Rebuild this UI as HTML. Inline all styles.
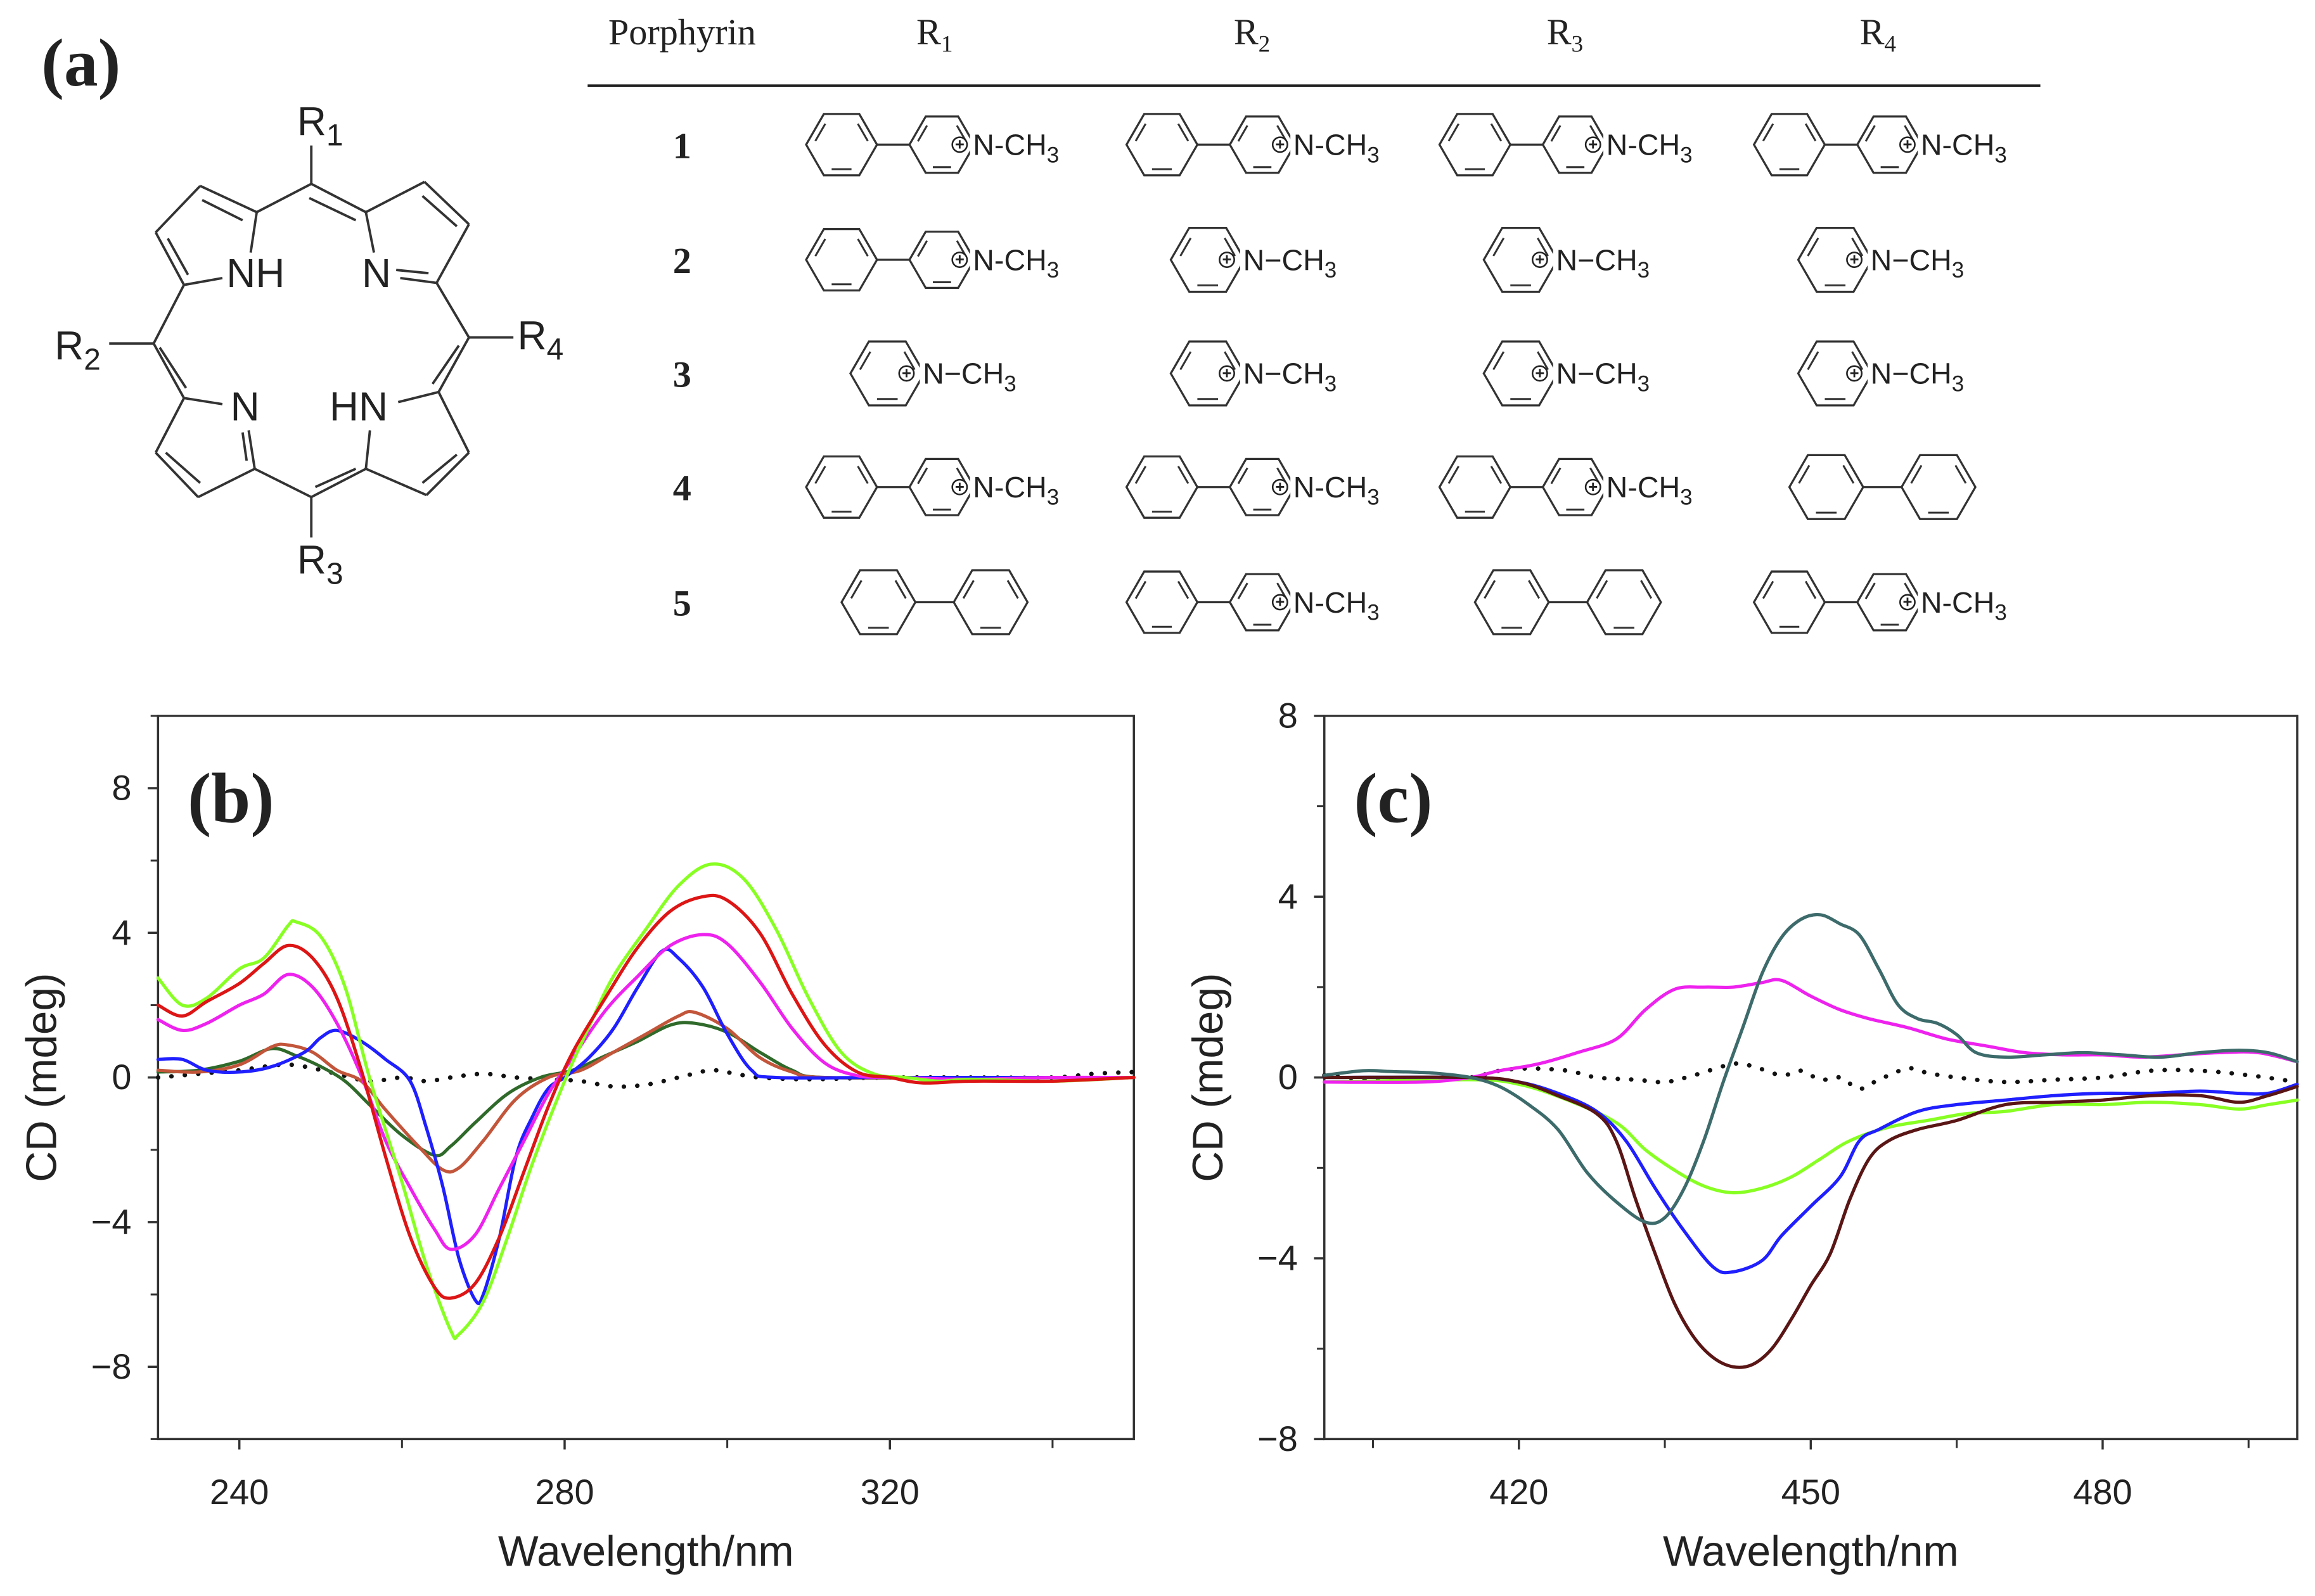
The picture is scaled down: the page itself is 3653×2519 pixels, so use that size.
<!DOCTYPE html>
<html><head><meta charset="utf-8">
<style>
html,body{margin:0;padding:0;background:#fff;}
svg{display:block;}
text{font-family:"Liberation Sans",sans-serif;fill:#222;}
.serif{font-family:"Liberation Serif",serif;}
</style></head>
<body>
<svg id="fig" width="3653" height="2519" viewBox="0 0 1568 1081.3" xmlns="http://www.w3.org/2000/svg">
  <rect width="1568" height="1081.3" fill="#fff"/>
  <g id="panelA"></g>
  <g id="panelB"></g>
  <g id="panelC"></g>
</svg>
<script>
// ---------- chart data (panel b) ----------
const bLimeX=[230,233,236,240,243,246,247,250,253,256,260,263,266,267,270,273,276,280,283,286,290,294,298,302,306,310,314,318,322,326,330,340,350];
const bLimeY=[2.75,2.0,2.2,3.0,3.3,4.2,4.3,3.9,2.5,0,-2.9,-5.2,-7.0,-7.1,-6.2,-4.4,-2.4,-0.1,1.4,2.8,4.1,5.3,5.9,5.5,4.1,2.2,0.7,0.1,0,-0.1,-0.05,-0.1,0];
const bRedX=[230,233,236,240,243,246,249,252,255,258,261,264,266,269,272,275,278,281,285,289,293,297,300,304,308,312,316,320,324,330,340,350];
const bRedY=[2.0,1.7,2.1,2.6,3.15,3.65,3.3,2.2,0.2,-2.2,-4.4,-5.8,-6.1,-5.7,-4.4,-2.6,-0.8,0.7,2.2,3.6,4.6,5.0,4.9,4.0,2.3,0.9,0.15,0,-0.15,-0.1,-0.1,0];
const bMagX=[230,233,236,240,243,246,249,252,255,258,261,264,266,269,272,275,278,281,285,289,293,297,300,304,308,312,316,320,330,340,350];
const bMagY=[1.6,1.3,1.5,2.0,2.3,2.85,2.5,1.5,0.05,-1.75,-3.05,-4.2,-4.75,-4.35,-3.05,-1.75,-0.45,0.55,1.85,2.8,3.65,3.95,3.7,2.65,1.35,0.4,0.05,0,-0.05,0,0];
const bBlueX=[230,233,236,240,244,248,250,252,255,258,261,263,265,267,269,270,272,274,276,278,280,283,286,289,292,294,297,300,303,306,320,350];
const bBlueY=[0.5,0.5,0.2,0.15,0.3,0.7,1.1,1.3,1.0,0.5,-0.1,-1.4,-3.0,-5.0,-6.15,-6.0,-4.4,-2.2,-1.1,-0.3,0,0.55,1.35,2.5,3.5,3.3,2.5,1.2,0.2,0,0,0];
const bBrownX=[230,235,240,244,246,249,252,255,258,262,265,267,270,274,278,282,286,290,294,296,300,304,308,312,330,350];
const bBrownY=[0.2,0.15,0.35,0.85,0.9,0.7,0.2,-0.1,-0.9,-1.9,-2.55,-2.5,-1.75,-0.6,0,0.2,0.7,1.2,1.7,1.8,1.35,0.55,0.15,0,0,0];
const bDkGreenX=[230,235,240,244,247,250,253,256,260,264,266,269,273,277,281,285,289,293,296,300,304,308,312,330,350];
const bDkGreenY=[0.15,0.2,0.45,0.8,0.6,0.3,-0.1,-0.75,-1.6,-2.15,-1.9,-1.25,-0.45,0,0.2,0.6,1.0,1.45,1.5,1.25,0.7,0.2,0,0,0];
const bDotX=[230,235,240,245,248,252,256,260,263,266,270,274,278,282,286,290,294,298,301,304,310,320,330,340,345,350];
const bDotY=[0.0,0.1,0.2,0.35,0.3,0.1,-0.1,0.0,-0.1,0.0,0.1,0.0,-0.05,-0.1,-0.25,-0.2,0.0,0.2,0.1,0.0,-0.05,0,0,0,0.1,0.15];
const bXTicks=[240,280,320];
const bXMinor=[260,300,340];
const bYTicks=[-8,-4,0,4,8];
const bYTickLabels=["\u22128","\u22124","0","4","8"];
const bYMinor=[-10,-6,-2,2,6,10];

// ---------- chart data (panel c) ----------
const cTealX=[400,404,407,411,415,418,421,424,427,430,433,435,437,439,441,443,445,447,449,451,453,455,457,459,461,463,465,467,470,474,478,482,486,490,494,497,500];
const cTealY=[0.05,0.15,0.13,0.1,0,-0.2,-0.6,-1.15,-2.1,-2.75,-3.2,-3.1,-2.45,-1.4,-0.1,1.1,2.3,3.1,3.5,3.6,3.4,3.15,2.4,1.6,1.3,1.2,0.95,0.55,0.45,0.5,0.55,0.5,0.45,0.55,0.6,0.55,0.35];
const cMagX=[400,410,415,418,422,426,430,433,436,439,442,445,447,450,453,456,460,464,468,472,476,480,484,488,492,496,500];
const cMagY=[-0.1,-0.1,0,0.15,0.3,0.55,0.85,1.5,1.95,2.0,2.0,2.1,2.15,1.8,1.5,1.3,1.1,0.85,0.7,0.55,0.5,0.5,0.45,0.5,0.55,0.55,0.35];
const cBlueX=[400,415,420,424,428,431,434,437,440,442,445,447,450,453,455,457,461,465,470,475,480,485,490,494,497,500];
const cBlueY=[0,0,-0.1,-0.35,-0.75,-1.4,-2.45,-3.4,-4.2,-4.3,-4.05,-3.5,-2.85,-2.2,-1.4,-1.15,-0.75,-0.6,-0.5,-0.4,-0.35,-0.35,-0.3,-0.35,-0.35,-0.15];
const cBrownX=[400,415,420,424,428,430,432,434,436,438,440,442,444,446,448,450,452,454,456,458,461,465,470,475,480,485,490,494,497,500];
const cBrownY=[0,0,-0.1,-0.4,-0.8,-1.4,-2.7,-3.9,-5.0,-5.75,-6.2,-6.4,-6.35,-6.0,-5.35,-4.6,-3.9,-2.7,-1.8,-1.4,-1.15,-0.95,-0.6,-0.55,-0.5,-0.4,-0.4,-0.55,-0.4,-0.2];
const cLimeX=[400,415,420,425,430,433,436,439,442,445,448,451,454,458,462,466,470,475,480,485,490,494,497,500];
const cLimeY=[-0.1,-0.05,-0.15,-0.5,-1.0,-1.6,-2.05,-2.4,-2.55,-2.45,-2.2,-1.8,-1.4,-1.1,-0.95,-0.8,-0.75,-0.6,-0.6,-0.55,-0.6,-0.7,-0.6,-0.5];
const cDotX=[400,405,410,415,418,421,425,428,432,435,438,442,444,447,449,451,453,455,457,460,462,465,470,475,480,485,490,495,500];
const cDotY=[0.05,-0.05,-0.05,0,0.15,0.2,0.15,0,-0.05,-0.1,0.05,0.3,0.25,0.05,0.15,-0.05,0,-0.25,-0.05,0.2,0.1,0,-0.1,-0.05,0,0.15,0.15,0.05,-0.1];
const cXTicks=[420,450,480];
const cXMinor=[405,435,465,495];
const cYTicks=[-8,-4,0,4,8];
const cYTickLabels=["\u22128","\u22124","0","4","8"];
const cYMinor=[-6,-2,2,6];

const NS="http://www.w3.org/2000/svg";
function mk(parent,tag,attrs,txt){const e=document.createElementNS(NS,tag);for(const k in attrs)e.setAttribute(k,attrs[k]);if(txt!==undefined)e.textContent=txt;parent.appendChild(e);return e;}

// ---------- panel a: porphyrin ----------
const A=document.getElementById('panelA');
const por=mk(A,'g',{transform:'scale(0.2738)'});


const bonds=[[770,455,770,360],[770,455,635,525],[770,455,905,525],[635,525,495,460],[495,460,385,575],[385,575,455,705],[455,705,550,688],[635,525,620,625],
[905,525,1050,450],[1050,450,1160,555],[1160,555,1080,700],[1080,700,990,688],[905,525,925,625],
[455,705,380,850],[380,850,270,850],[380,850,455,985],[455,985,550,1000],[455,985,385,1120],[385,1120,490,1230],[490,1230,630,1160],[630,1160,615,1065],
[630,1160,770,1230],[770,1230,770,1330],[770,1230,905,1160],[905,1160,915,1065],[905,1160,1055,1225],[1055,1225,1160,1120],[1160,1120,1085,970],[1085,970,985,995],
[1085,970,1160,835],[1160,835,1270,835],[1160,835,1080,700]];
bonds.forEach(b=>mk(por,'line',{x1:b[0],y1:b[1],x2:b[2],y2:b[3],stroke:'#333','stroke-width':6}));
const dbl=[[765,490,880,545],[500,495,600,545],[415,590,465,680],[1045,485,1130,560],[980,668,1060,676],[1045,1195,1130,1125],[600,1070,610,1140],[780,1205,880,1160],[410,1120,495,1195],[395,860,460,960],[1135,855,1070,950]];
dbl.forEach(b=>mk(por,'line',{x1:b[0],y1:b[1],x2:b[2],y2:b[3],stroke:'#333','stroke-width':6}));
const pl=[["NH",560,710],["N",895,710],["N",570,1040],["HN",815,1040]];
pl.forEach(p=>mk(por,'text',{x:p[1],y:p[2],'font-size':100,fill:'#222'},p[0]));
const rl=[["R",735,335,"1"],["R",135,890,"2"],["R",1280,865,"4"],["R",735,1420,"3"]];
rl.forEach(r=>{const t=mk(por,'text',{x:r[1],y:r[2],'font-size':100,fill:'#222'},r[0]);mk(t,'tspan',{dy:25,'font-size':75},r[3]);});
const la=mk(A,'text',{x:28,y:58,'font-size':46,'font-weight':'bold',class:'serif',fill:'#111'},'(a)');


// table
const hdr=[["Porphyrin",462,""],["R",633,"1"],["R",848,"2"],["R",1060,"3"],["R",1272,"4"]];
hdr.forEach(h=>{const t=mk(A,'text',{x:h[1],y:30,'font-size':25,'text-anchor':'middle',class:'serif',fill:'#222'},h[0]);if(h[2])mk(t,'tspan',{dy:5,'font-size':16},h[2]);
});
mk(A,'line',{x1:398,y1:58,x2:1382,y2:58,stroke:'#222','stroke-width':1.6});
const rowsY=[98,176,253,330,408];
const cols=[633,850,1062,1275];
const rowsCells=[["A","A","A","A"],["A","B","B","B"],["B","B","B","B"],["A","A","A","C"],["C","A","C","A"]];
function hex(g,cx,cy,r){let pts=[];for(let i=0;i<6;i++){const a=Math.PI/3*i;pts.push([cx+r*Math.cos(a),cy+r*Math.sin(a)]);}
mk(g,'polygon',{points:pts.map(p=>p.join(',')).join(' '),fill:'none',stroke:'#333','stroke-width':1.4});
[1,3,5].forEach(i=>{const p=pts[i],q=pts[(i+1)%6];const s=0.8;const ix=cx+(p[0]-cx)*s,iy=cy+(p[1]-cy)*s,jx=cx+(q[0]-cx)*s,jy=cy+(q[1]-cy)*s;
const mx=(ix+jx)/2,my=(iy+jy)/2;mk(g,'line',{x1:mx+(ix-mx)*0.7,y1:my+(iy-my)*0.7,x2:mx+(jx-mx)*0.7,y2:my+(jy-my)*0.7,stroke:'#333','stroke-width':1.3});});}
function nme(g,x,y,plus,dash){mk(g,'rect',{x:x-2,y:y-10,width:6,height:20,fill:'#fff'});
mk(g,'circle',{cx:plus,cy:y,r:5,fill:'#fff',stroke:'#222','stroke-width':1.1});
mk(g,'text',{x:plus,y:y+3.5,'font-size':11,'text-anchor':'middle','font-weight':'bold'},'+');
const t=mk(g,'text',{x:x,y:y+7,'font-size':20},'N'+dash+'CH');mk(t,'tspan',{dy:5,'font-size':15},'3');}
rowsY.forEach((cy,ri)=>{
 const n=mk(A,'text',{x:462,y:cy+9,'font-size':25,'font-weight':'bold','text-anchor':'middle',class:'serif',fill:'#222'},String(ri+1));
 
 cols.forEach((cx,ci)=>{const g=mk(A,'g',{});const t=rowsCells[ri][ci];
  
  if(t==="A"){hex(g,cx-63,cy,24);mk(g,'line',{x1:cx-39,y1:cy,x2:cx-17,y2:cy,stroke:'#333','stroke-width':1.4});hex(g,cx+5,cy,22);nme(g,cx+26,cy,cx+17,'-');}
  else if(t==="B"){hex(g,cx-32,cy,25);nme(g,cx-8,cy,cx-19,'\u2212');}
  else {hex(g,cx-38,cy,25);mk(g,'line',{x1:cx-13,y1:cy,x2:cx+13,y2:cy,stroke:'#333','stroke-width':1.4});hex(g,cx+38,cy,25);}
 });
});

// ---------- charts ----------
function smooth(P){let d='M'+P[0][0].toFixed(1)+','+P[0][1].toFixed(1);
 for(let i=0;i<P.length-1;i++){const p0=P[Math.max(0,i-1)],p1=P[i],p2=P[i+1],p3=P[Math.min(P.length-1,i+2)];
  const c1=[p1[0]+(p2[0]-p0[0])/6,p1[1]+(p2[1]-p0[1])/6],c2=[p2[0]-(p3[0]-p1[0])/6,p2[1]-(p3[1]-p1[1])/6];
  d+=` C${c1[0].toFixed(1)},${c1[1].toFixed(1)} ${c2[0].toFixed(1)},${c2[1].toFixed(1)} ${p2[0].toFixed(1)},${p2[1].toFixed(1)}`;}
 return d;}
function chart(G,o){
 const sx=w=>o.L+(w-o.x0)*(o.R-o.L)/(o.x1-o.x0);
 const sy=v=>o.B-(v-o.y0)*(o.B-o.T)/(o.y1-o.y0);
 const fr=mk(G,'rect',{x:o.L,y:o.T,width:o.R-o.L,height:o.B-o.T,fill:'none',stroke:'#333','stroke-width':1.5});
 
 o.xt.forEach(w=>{mk(G,'line',{x1:sx(w),y1:o.B,x2:sx(w),y2:o.B+7,stroke:'#333','stroke-width':1.5});
  const t=mk(G,'text',{x:sx(w),y:o.B+44,'font-size':24,'text-anchor':'middle'},String(w));
  });
 o.xm.forEach(w=>mk(G,'line',{x1:sx(w),y1:o.B,x2:sx(w),y2:o.B+6,stroke:'#333','stroke-width':1.3}));
 o.yt.forEach((v,i)=>{mk(G,'line',{x1:o.L-7,y1:sy(v),x2:o.L,y2:sy(v),stroke:'#333','stroke-width':1.5});
  const t=mk(G,'text',{x:o.L-18,y:sy(v)+8,'font-size':24,'text-anchor':'end'},o.ytl[i]);
  });
 o.ym.forEach(v=>mk(G,'line',{x1:o.L-5,y1:sy(v),x2:o.L,y2:sy(v),stroke:'#333','stroke-width':1.3}));
 const xt=mk(G,'text',{x:(o.L+o.R)/2,y:1061,'font-size':29,'text-anchor':'middle'},'Wavelength/nm');
 
 const yt=mk(G,'text',{x:0,y:0,'font-size':29,'text-anchor':'middle',transform:`translate(${o.L-69},${(o.T+o.B)/2}) rotate(-90)`},'CD (mdeg)');
 
 const lb=mk(G,'text',{x:o.L+20,y:o.T+72,'font-size':48,'font-weight':'bold',class:'serif',fill:'#111'},o.label);
 
 o.series.forEach(s=>{const P=s.x.map((w,i)=>[sx(w),sy(s.y[i])]);
  const p=mk(G,'path',{d:smooth(P),fill:'none',stroke:s.c,'stroke-width':s.dot?3:2.2,'stroke-linejoin':'round','stroke-linecap':'round'});
  if(s.dot)p.setAttribute('stroke-dasharray','0.1 9');
  });
}
chart(document.getElementById('panelB'),{L:107,R:768,T:485,B:975,x0:230,x1:350,y0:-10,y1:10,label:'(b)',
 xt:bXTicks,xm:bXMinor,yt:bYTicks,ytl:bYTickLabels,ym:bYMinor,
 series:[{x:bDotX,y:bDotY,c:'#111',dot:true,n:'series-dotted-b'},{x:bDkGreenX,y:bDkGreenY,c:'#2f6a2a',n:'series-darkgreen-b'},{x:bBrownX,y:bBrownY,c:'#c2553a',n:'series-brown-b'},
 {x:bBlueX,y:bBlueY,c:'#1f1fff',n:'series-blue-b'},{x:bMagX,y:bMagY,c:'#ee22ee',n:'series-magenta-b'},{x:bLimeX,y:bLimeY,c:'#88ff22',n:'series-lime-b'},{x:bRedX,y:bRedY,c:'#dd1515',n:'series-red-b'}]});
chart(document.getElementById('panelC'),{L:897,R:1556,T:485,B:975,x0:400,x1:500,y0:-8,y1:8,label:'(c)',
 xt:cXTicks,xm:cXMinor,yt:cYTicks,ytl:cYTickLabels,ym:cYMinor,
 series:[{x:cDotX,y:cDotY,c:'#111',dot:true,n:'series-dotted-c'},{x:cLimeX,y:cLimeY,c:'#88ff22',n:'series-lime-c'},{x:cMagX,y:cMagY,c:'#ee22ee',n:'series-magenta-c'},
 {x:cBlueX,y:cBlueY,c:'#1f1fff',n:'series-blue-c'},{x:cBrownX,y:cBrownY,c:'#5a1515',n:'series-darkbrown-c'},{x:cTealX,y:cTealY,c:'#3d6b6b',n:'series-teal-c'}]});
</script>
</body></html>
